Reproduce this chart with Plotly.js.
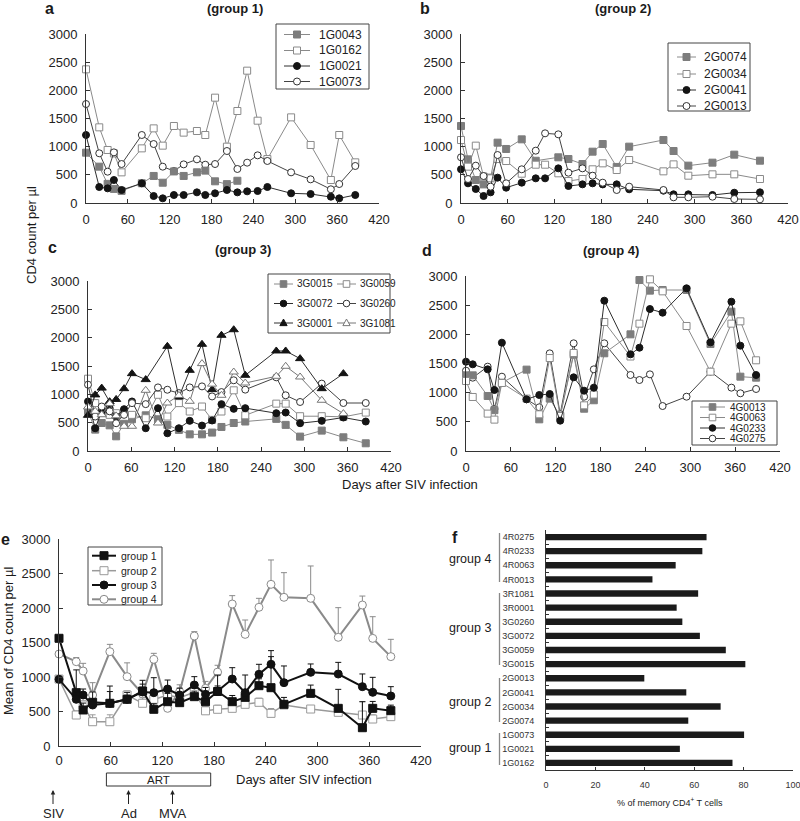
<!DOCTYPE html>
<html><head><meta charset="utf-8">
<script src="https://cdn.plot.ly/plotly-3.0.1.min.js"></script>
<style>html,body{margin:0;padding:0;background:#fff}#chart{width:800px;height:821px}</style>
</head><body><div id="chart"></div>
<script>
// ---------------- DATA ----------------
const namesA = ['1G0043','1G0162','1G0021','1G0073'];
const daysA = [0,19,31,40,51,80,97,110,126,140,159,171,185,202,217,231,246,260,294,322,351,363,386];
const a1G0043 = [893,645,340,250,215,350,480,360,560,480,545,575,385,335,395,null,null,null,null,null,null,null,null];
const a1G0162 = [2373,1343,941,880,544,970,1325,1018,1367,1249,1278,1207,1870,1000,1633,2349,1461,780,1520,1030,408,1207,722];
const a1G0021 = [1207,284,260,408,231,349,124,83,142,142,189,142,172,231,189,207,213,284,172,160,112,83,142];
const a1G0073 = [1757,882,556,899,692,1207,1047,645,568,686,775,680,692,923,604,716,846,746,544,420,243,337,657];

const namesB = ['2G0074','2G0034','2G0041','2G0013'];
const daysB = [0,9,19,29,38,47,58,78,96,108,125,138,156,169,182,200,216,260,273,292,323,351,384];
const b2G0074 = [1367,775,408,330,450,1071,959,1130,750,null,811,781,692,911,1047,640,1000,1118,923,663,716,858,751];
const b2G0034 = [1118,645,1018,470,438,780,745,520,680,680,527,390,426,598,704,586,763,562,686,485,509,509,426];
const b2G0041 = [598,349,249,124,189,450,272,361,438,438,615,302,331,349,330,331,243,219,154,154,142,183,189];
const b2G0013 = [811,426,663,479,290,852,349,598,929,1237,1219,538,615,485,361,231,290,231,101,101,112,71,65];

const namesC = ['3G0015','3G0059','3G0072','3G0260','3G0001','3G1081'];
const daysC = [0,10,19,30,39,50,61,80,97,110,126,141,158,172,185,202,218,261,274,294,324,354,385];
const c3G0015 = [700,377,494,453,259,480,560,630,560,461,372,294,294,325,424,494,520,567,461,254,360,242,136];
const c3G0059 = [1276,845,697,638,667,697,638,579,992,608,845,697,785,549,697,1071,630,836,836,614,614,602,678];
const c3G0072 = [874,402,697,756,608,738,874,402,756,313,402,532,449,538,827,744,756,667,679,490,532,591,520];
const c3G0260 = [1170,608,785,700,490,638,845,827,1122,1081,1022,1122,1140,963,1040,1248,1083,1300,983,865,1189,847,847];
const c3G0001 = [630,990,1110,870,910,1100,1365,1260,null,1847,953,1424,1883,1083,2042,2140,1336,1765,1765,1630,1100,1365,null];
const c3G1081 = [777,700,640,836,620,436,436,1071,494,847,980,877,1542,1180,983,1394,1200,1318,1495,1306,895,660,null];

const namesD = ['4G0013','4G0063','4G0233','4G0275'];
const daysD = [0,9,29,38,48,81,98,112,126,144,158,171,185,220,232,246,263,295,327,355,367,388];
const d4G0013 = [1297,1297,943,700,1171,1395,543,898,600,1650,725,870,1675,2000,2931,2749,2760,2760,1834,2389,1274,1257];
const d4G0063 = [1200,926,641,538,1166,898,629,1594,600,1680,783,967,2211,1620,2183,2943,2737,2143,1360,2183,2223,1555];
const d4G0233 = [1531,1486,1400,1046,1857,886,960,977,520,1263,1034,1086,2577,1657,1771,2434,2371,2789,1863,2560,1806,1303];
const d4G0275 = [1377,1257,1446,720,1274,886,749,1674,634,1846,931,1400,1846,1303,1217,1314,771,931,1360,1086,989,1063];

const namesE = ['group 1','group 2','group 3','group 4'];
const daysE = [0,20,28,39,59,79,97,110,126,140,157,170,184,201,216,232,246,261,292,324,352,364,385];
const eG1 = [1561,773,522,633,619,677,797,532,642,628,715,642,790,642,705,874,845,604,763,546,265,546,512];
const eG2 = [970,449,594,352,352,739,619,677,739,700,780,510,532,546,604,633,473,594,536,488,449,391,425];
const eG3 = [967,677,739,594,619,677,783,773,826,739,884,749,797,971,773,1039,1184,918,1068,1043,860,778,725];
const eG4 = [1333,1222,1087,739,1367,1005,754,1256,546,787,1594,836,1070,2058,1618,2010,2343,2155,2140,1575,2043,1560,1295];
const eG1err = [0,330,100,150,170,60,100,80,120,60,80,100,80,90,90,100,450,100,120,275,377,100,80];
const eG2err = [0,60,60,100,100,60,80,50,50,50,50,60,60,60,60,60,70,60,50,60,193,60,60];
const eG3err = [0,100,87,80,250,100,169,217,130,100,121,100,232,164,256,145,198,242,121,169,184,217,135];
const eG4err = [0,60,111,179,106,200,100,87,100,100,63,100,100,121,208,130,353,357,469,430,130,314,251];

const fCats = ['1G0162','1G0021','1G0073','2G0074','2G0034','2G0041','2G0013','3G0015','3G0059','3G0072','3G0260','3R0001','3R1081','4R0013','4R0063','4R0233','4R0275'];
const fVals = [75.5,54.2,80.2,57.6,70.7,56.8,39.8,80.7,72.8,62.3,55.2,52.9,61.6,43.1,52.5,63.3,65.0];
const fGroups = ['group 1','group 2','group 3','group 4'];

// ---------------- HELPERS ----------------
const W = 800, H = 821;
const PX = x => x / W, PY = y => 1 - y / H;
const FONT = 'Liberation Sans, Arial, Helvetica, sans-serif';
const shapes = [], annotations = [];

const ST = {
  gsq: {sym:'square', fc:'#7d7d7d', mc:'#7d7d7d', lc:'#8a8a8a'},
  osq: {sym:'square', fc:'#ffffff', mc:'#8a8a8a', lc:'#8a8a8a'},
  bci: {sym:'circle', fc:'#141414', mc:'#141414', lc:'#2e2e2e'},
  oci: {sym:'circle', fc:'#ffffff', mc:'#333333', lc:'#444444'},
  btr: {sym:'triangle-up', fc:'#141414', mc:'#141414', lc:'#2e2e2e'},
  otr: {sym:'triangle-up', fc:'#ffffff', mc:'#777777', lc:'#777777'},
  e1: {sym:'square', fc:'#111111', mc:'#111111', lc:'#111111'},
  e2: {sym:'square', fc:'#ffffff', mc:'#9a9a9a', lc:'#9a9a9a'},
  e3: {sym:'circle', fc:'#111111', mc:'#111111', lc:'#111111'},
  e4: {sym:'circle', fc:'#ffffff', mc:'#8a8a8a', lc:'#8a8a8a'}
};

function tr(x, y, st, n, o) {
  o = o || {};
  const s = n > 1 ? String(n) : '';
  const t = {type:'scatter', mode:'lines+markers', x:x, y:y, xaxis:'x'+s, yaxis:'y'+s,
    connectgaps:true, cliponaxis:false, showlegend:false, hoverinfo:'skip',
    line:{color:st.lc, width:o.lw || 1},
    marker:{symbol:st.sym, size:o.ms || 7, color:st.fc, line:{color:st.mc, width:1}}};
  if (o.err) t.error_y = {type:'data', symmetric:false, array:o.err, arrayminus:o.err.map(() => 0),
    color:st.lc, thickness:1, width:3};
  return t;
}

function glyph(st, cx, cy, s) {
  const base = {xref:'paper', yref:'paper', fillcolor:st.fc, line:{color:st.mc, width:1}};
  if (st.sym === 'square') shapes.push(Object.assign({type:'rect', x0:PX(cx-s), x1:PX(cx+s), y0:PY(cy+s), y1:PY(cy-s)}, base));
  else if (st.sym === 'circle') shapes.push(Object.assign({type:'circle', x0:PX(cx-s), x1:PX(cx+s), y0:PY(cy+s), y1:PY(cy-s)}, base));
  else shapes.push(Object.assign({type:'path', path:'M'+PX(cx-s*1.1)+','+PY(cy+s*0.8)+' L'+PX(cx+s*1.1)+','+PY(cy+s*0.8)+' L'+PX(cx)+','+PY(cy-s*1.2)+' Z'}, base));
}

function legendBox(x0, y0, x1, y1) {
  shapes.push({type:'rect', xref:'paper', yref:'paper', x0:PX(x0), x1:PX(x1), y0:PY(y1), y1:PY(y0),
    line:{color:'#444', width:1}, fillcolor:'#ffffff'});
}
function legendEntry(label, st, l0, l1, y, tx, fs, s, lw) {
  shapes.push({type:'line', xref:'paper', yref:'paper', x0:PX(l0), x1:PX(l1), y0:PY(y), y1:PY(y),
    line:{color:st.lc, width:lw || 1}});
  glyph(st, (l0 + l1) / 2, y, s);
  annotations.push({xref:'paper', yref:'paper', x:PX(tx), y:PY(y), xanchor:'left', yanchor:'middle',
    showarrow:false, text:label, font:{size:fs, color:'#222', family:FONT}});
}
function txt(text, x, y, size, o) {
  annotations.push(Object.assign({xref:'paper', yref:'paper', x:PX(x), y:PY(y), xanchor:'center', yanchor:'middle',
    showarrow:false, text:text, font:{size:size, color:'#1a1a1a', family:FONT}}, o || {}));
}

// ---------------- TRACES ----------------
const data = [
  tr(daysA, a1G0162, ST.osq, 1), tr(daysA, a1G0073, ST.oci, 1), tr(daysA, a1G0043, ST.gsq, 1), tr(daysA, a1G0021, ST.bci, 1),
  tr(daysB, b2G0074, ST.gsq, 2), tr(daysB, b2G0034, ST.osq, 2), tr(daysB, b2G0041, ST.bci, 2), tr(daysB, b2G0013, ST.oci, 2),
  tr(daysC, c3G0015, ST.gsq, 3), tr(daysC, c3G0059, ST.osq, 3), tr(daysC, c3G0072, ST.bci, 3),
  tr(daysC, c3G0260, ST.oci, 3), tr(daysC, c3G0001, ST.btr, 3, {ms:8}), tr(daysC, c3G1081, ST.otr, 3, {ms:8}),
  tr(daysD, d4G0275, ST.oci, 4), tr(daysD, d4G0013, ST.gsq, 4), tr(daysD, d4G0063, ST.osq, 4), tr(daysD, d4G0233, ST.bci, 4),
  tr(daysE, eG4, ST.e4, 5, {lw:2, ms:8, err:eG4err}), tr(daysE, eG2, ST.e2, 5, {lw:1.5, ms:8, err:eG2err}),
  tr(daysE, eG1, ST.e1, 5, {lw:2, ms:8, err:eG1err}), tr(daysE, eG3, ST.e3, 5, {lw:2, ms:8, err:eG3err}),
  {type:'bar', orientation:'h', x:fVals, y:fCats, xaxis:'x6', yaxis:'y6', showlegend:false, hoverinfo:'skip',
   marker:{color:'#1b1b1b', line:{width:0}}}
];

// ---------------- AXES ----------------
const axBase = {showline:true, linecolor:'#333', linewidth:1, ticks:'inside', ticklen:4, tickcolor:'#333',
  showgrid:false, zeroline:false, tickfont:{size:13, color:'#222', family:FONT}, fixedrange:true,
  ticklabeloverflow:'allow'};
function xAx(x0, x1, anchor, extra) {
  return Object.assign({}, axBase, {domain:[PX(x0), PX(x1)], anchor:anchor, range:[0,420], tickmode:'linear',
    tick0:0, dtick:60, ticklabelstandoff:4}, extra || {});
}
function yAx(top, bottom, anchor, extra) {
  return Object.assign({}, axBase, {domain:[PY(bottom), PY(top)], anchor:anchor, range:[0,3000], tickmode:'linear',
    tick0:0, dtick:500, ticklabelstandoff:5}, extra || {});
}

const layout = {
  width:W, height:H, margin:{l:0, r:0, t:0, b:0}, paper_bgcolor:'#fff', plot_bgcolor:'rgba(0,0,0,0)',
  font:{family:FONT, color:'#222'}, showlegend:false, hovermode:false, bargap:0.55,
  xaxis: xAx(86, 379, 'y'),  yaxis: yAx(34, 203, 'x'),
  xaxis2: xAx(461, 788, 'y2'), yaxis2: yAx(34, 203, 'x2'),
  xaxis3: xAx(88, 391, 'y3'), yaxis3: yAx(281, 451, 'x3'),
  xaxis4: xAx(466, 780, 'y4'), yaxis4: yAx(276, 451, 'x4'),
  xaxis5: xAx(59, 421, 'y5', {ticklabelstandoff:2}), yaxis5: yAx(539, 746, 'x5'),
  xaxis6: Object.assign({}, axBase, {domain:[PX(546), PX(793)], anchor:'y6', range:[0,100], tickmode:'array',
    tickvals:[0,20,40,60,80,100], ticklen:3, ticklabelstandoff:6, tickfont:{size:9, color:'#333', family:FONT}}),
  yaxis6: Object.assign({}, axBase, {domain:[PY(770), PY(530)], anchor:'x6', type:'category',
    categoryorder:'array', categoryarray:fCats, range:[-0.5, 16.5], ticklen:3, tickson:'boundaries',
    ticklabelstandoff:9, tickfont:{size:9, color:'#333', family:FONT}}),
  shapes:shapes, annotations:annotations
};

// ---------------- LEGENDS ----------------
legendBox(276, 24, 369, 89);
[[namesA[0], ST.gsq], [namesA[1], ST.osq], [namesA[2], ST.bci], [namesA[3], ST.oci]].forEach((e, i) =>
  legendEntry(e[0], e[1], 284, 310, [34.5, 50.5, 66, 81.5][i], 317, 12, 3.5));

legendBox(668, 43, 750, 111);
[[namesB[0], ST.gsq], [namesB[1], ST.osq], [namesB[2], ST.bci], [namesB[3], ST.oci]].forEach((e, i) =>
  legendEntry(e[0], e[1], 677, 696, [57, 74, 90, 106][i], 702, 12, 3.5));

legendBox(268, 274, 390, 333);
[[namesC[0], ST.gsq, 0, 0], [namesC[1], ST.osq, 1, 0], [namesC[2], ST.bci, 0, 1], [namesC[3], ST.oci, 1, 1],
 [namesC[4], ST.btr, 0, 2], [namesC[5], ST.otr, 1, 2]].forEach(e => {
  const l0 = e[2] ? 337 : 274, l1 = e[2] ? 356 : 293, tx = e[2] ? 358 : 295;
  legendEntry(e[0], e[1], l0, l1, [284, 303.5, 323][e[3]], tx, 10, 3.3);
});

legendBox(692, 401, 777, 445);
[[namesD[0], ST.gsq], [namesD[1], ST.osq], [namesD[2], ST.bci], [namesD[3], ST.oci]].forEach((e, i) =>
  legendEntry(e[0], e[1], 700, 725, [407, 417.5, 428, 438.5][i], 728, 10, 3.3));

legendBox(88, 547, 162, 605);
[[namesE[0], ST.e1, 2], [namesE[1], ST.e2, 1.5], [namesE[2], ST.e3, 2], [namesE[3], ST.e4, 2]].forEach((e, i) =>
  legendEntry(e[0], e[1], 92, 116, [555.7, 570.7, 585, 599.3][i], 119, 10.5, 4, e[2]));

// ---------------- TEXT ----------------
const bold = t => '<b>' + t + '</b>';
txt(bold('a'), 49, 8, 16); txt(bold('(group 1)'), 235, 8, 13);
txt(bold('b'), 425, 8, 16); txt(bold('(group 2)'), 623, 8, 13);
txt(bold('c'), 52, 248, 16); txt(bold('(group 3)'), 243, 249, 13);
txt(bold('d'), 427, 250, 16); txt(bold('(group 4)'), 611, 250, 13);
txt(bold('e'), 5, 539, 16);
txt(bold('f'), 455, 537, 16);
txt('CD4 count per µl', 31, 235, 13, {textangle:-90});
txt('Days after SIV infection', 410, 484, 13);
txt('Mean of CD4 count per µl', 8, 641, 13, {textangle:-90});
txt('Days after SIV infection', 304, 779, 13);
txt('% of memory CD4<sup>+</sup> T cells', 670, 802, 9);

// group brackets and labels in f
[[533, 582, 559], [593, 665, 628], [678, 722, 702], [733, 765, 748]].forEach((g, i) => {
  shapes.push({type:'line', xref:'paper', yref:'paper', x0:PX(499.5), x1:PX(499.5), y0:PY(g[0]), y1:PY(g[1]),
    line:{color:'#888', width:1.3}});
  txt(fGroups[3 - i], 470, g[2], 12.5);
});

// ART box and arrows in e
shapes.push({type:'rect', xref:'x5', yref:'paper', x0:55, x1:176, y0:PY(786), y1:PY(773), line:{color:'#333', width:1}, fillcolor:'rgba(0,0,0,0)'});
annotations.push({xref:'x5', yref:'paper', x:116, y:PY(779.5), yanchor:'middle', showarrow:false, text:'ART', font:{size:11.5, color:'#222', family:FONT}});
[['SIV', 53], ['Ad', 128.5], ['MVA', 172.5]].forEach(a => {
  annotations.push({xref:'paper', yref:'paper', x:PX(a[1]), y:PY(790), ax:0, ay:23, showarrow:true,
    arrowhead:2, arrowsize:0.9, arrowwidth:1, arrowcolor:'#222', text:a[0], font:{size:13, color:'#222', family:FONT}});
});

Plotly.newPlot('chart', data, layout, {staticPlot:true, displayModeBar:false});
</script></body></html>
